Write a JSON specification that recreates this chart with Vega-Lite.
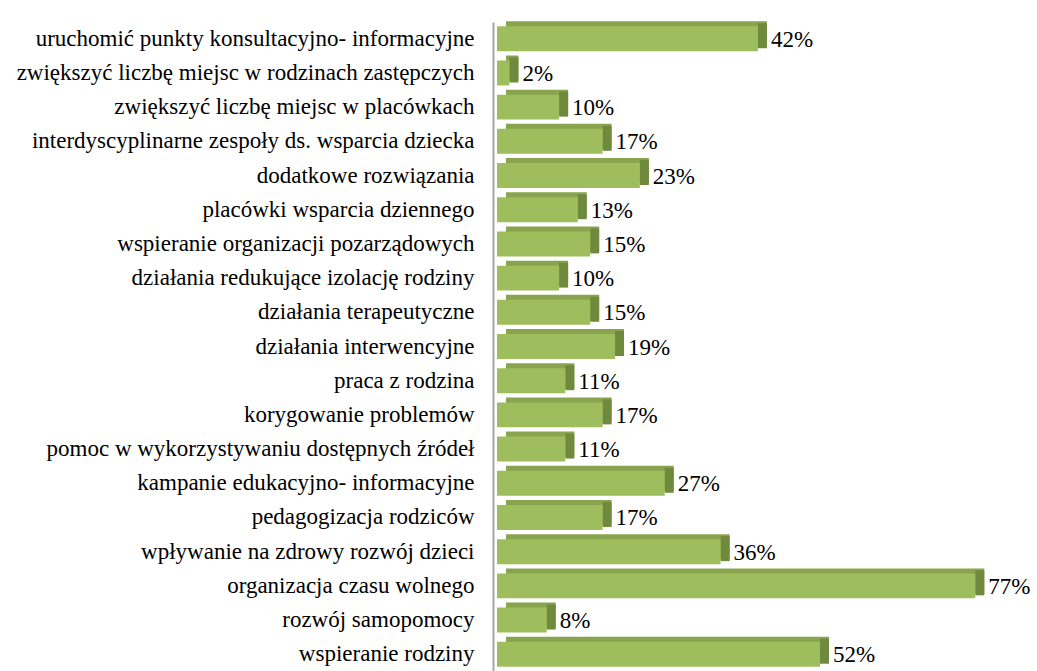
{
  "$schema": "https://vega.github.io/schema/vega-lite/v6.json",
  "autosize": {"type": "none"},
  "padding": {"left": 497, "top": 22, "right": 12, "bottom": 0},
  "width": 528,
  "height": 649,
  "background": "white",
  "config": {"view": {"stroke": null}},
  "data": {"values": [
    {"kategoria": "uruchomić punkty konsultacyjno- informacyjne", "wartosc": 0.42},
    {"kategoria": "zwiększyć liczbę miejsc w rodzinach zastępczych", "wartosc": 0.02},
    {"kategoria": "zwiększyć liczbę miejsc w placówkach", "wartosc": 0.10},
    {"kategoria": "interdyscyplinarne zespoły ds. wsparcia dziecka", "wartosc": 0.17},
    {"kategoria": "dodatkowe rozwiązania", "wartosc": 0.23},
    {"kategoria": "placówki wsparcia dziennego", "wartosc": 0.13},
    {"kategoria": "wspieranie organizacji pozarządowych", "wartosc": 0.15},
    {"kategoria": "działania redukujące izolację rodziny", "wartosc": 0.10},
    {"kategoria": "działania terapeutyczne", "wartosc": 0.15},
    {"kategoria": "działania interwencyjne", "wartosc": 0.19},
    {"kategoria": "praca z rodzina", "wartosc": 0.11},
    {"kategoria": "korygowanie problemów", "wartosc": 0.17},
    {"kategoria": "pomoc w wykorzystywaniu dostępnych źródeł", "wartosc": 0.11},
    {"kategoria": "kampanie edukacyjno- informacyjne", "wartosc": 0.27},
    {"kategoria": "pedagogizacja rodziców", "wartosc": 0.17},
    {"kategoria": "wpływanie na zdrowy rozwój dzieci", "wartosc": 0.36},
    {"kategoria": "organizacja czasu wolnego", "wartosc": 0.77},
    {"kategoria": "rozwój samopomocy", "wartosc": 0.08},
    {"kategoria": "wspieranie rodziny", "wartosc": 0.52}
  ]},
  "encoding": {
    "y": {
      "field": "kategoria", "type": "nominal", "sort": null,
      "scale": {"paddingInner": 0.27, "paddingOuter": 0.125},
      "axis": {
        "title": null, "ticks": false, "offset": 4,
        "domainColor": "#A6A6A6", "domainWidth": 2,
        "labelFont": "Liberation Serif", "labelFontSize": 23,
        "labelColor": "#000000", "labelPadding": 19, "labelLimit": 520
      }
    },
    "x": {
      "field": "wartosc", "type": "quantitative",
      "scale": {"domain": [0, 0.85], "nice": false},
      "axis": null
    }
  },
  "layer": [
    {"mark": {"type": "bar", "color": "#88A44E", "xOffset": 9, "x2Offset": 3, "yOffset": -5, "y2Offset": -5}},
    {
      "mark": {"type": "bar", "color": "#6F8A3C", "xOffset": 9, "yOffset": -3, "y2Offset": -3},
      "encoding": {"x2": {"field": "wartosc"}}
    },
    {"mark": {"type": "bar", "color": "#9EBD5D"}},
    {
      "mark": {"type": "text", "align": "left", "baseline": "middle", "dx": 13, "dy": 1, "font": "Liberation Serif", "fontSize": 23, "color": "#000000"},
      "encoding": {"text": {"field": "wartosc", "type": "quantitative", "format": ".0%"}}
    }
  ]
}
